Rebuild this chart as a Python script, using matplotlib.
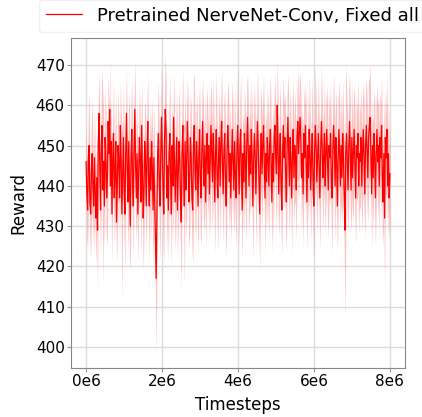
import numpy as np
import matplotlib
matplotlib.use("Agg")
import matplotlib.pyplot as plt
from matplotlib.ticker import FuncFormatter

# mean reward per evaluation point
reward_mean = [
    446, 438, 434, 447, 450, 436, 433, 443, 448, 440, 435, 447, 438, 432, 442, 429, 450, 458, 444, 434,
    450, 455, 439, 446, 435, 452, 447, 437, 442, 456, 448, 459, 440, 451, 433, 447, 453, 437, 443, 451,
    431, 440, 450, 446, 437, 455, 447, 433, 442, 452, 439, 433, 448, 458, 444, 436, 451, 441, 430, 447,
    454, 442, 435, 450, 459, 445, 437, 448, 433, 442, 452, 447, 436, 455, 444, 432, 439, 451, 446, 435,
    448, 456, 442, 435, 447, 439, 451, 444, 434, 447, 437, 428, 417, 433, 448, 453, 442, 435, 447, 457,
    449, 439, 433, 451, 459, 454, 437, 445, 434, 448, 453, 442, 433, 450, 440, 457, 447, 436, 444, 452,
    434, 442, 451, 447, 437, 431, 448, 455, 444, 435, 451, 439, 446, 456, 448, 436, 442, 452, 447, 437,
    434, 450, 455, 444, 439, 451, 446, 435, 447, 454, 442, 437, 448, 456, 446, 440, 450, 436, 447, 453,
    443, 450, 438, 447, 455, 448, 441, 453, 446, 436, 448, 454, 443, 437, 447, 452, 440, 450, 456, 446,
    438, 448, 453, 442, 435, 447, 455, 450, 441, 448, 437, 446, 454, 447, 439, 451, 443, 437, 448, 455,
    447, 438, 450, 454, 443, 434, 448, 441, 453, 446, 437, 451, 457, 448, 440, 450, 443, 454, 447, 435,
    446, 453, 448, 438, 447, 456, 450, 441, 433, 447, 453, 443, 450, 455, 446, 437, 448, 441, 452, 447,
    440, 450, 454, 446, 436, 448, 441, 452, 455, 447, 443, 460, 450, 438, 447, 453, 441, 434, 448, 455,
    447, 452, 443, 436, 450, 457, 448, 440, 452, 446, 437, 448, 454, 442, 450, 447, 439, 452, 456, 448,
    453, 457, 451, 442, 448, 438, 453, 447, 455, 446, 436, 450, 442, 454, 448, 439, 447, 453, 442, 435,
    448, 455, 450, 441, 447, 453, 445, 437, 448, 456, 450, 442, 447, 453, 440, 448, 454, 446, 439, 450,
    447, 453, 442, 437, 448, 455, 450, 440, 452, 446, 435, 447, 454, 448, 440, 450, 442, 453, 447, 437,
    429, 448, 453, 446, 439, 450, 456, 447, 439, 452, 442, 448, 454, 446, 437, 450, 447, 453, 440, 448,
    446, 452, 440, 448, 454, 447, 438, 450, 455, 448, 442, 452, 455, 457, 447, 438, 450, 442, 453, 447,
    437, 448, 454, 446, 450, 440, 452, 447, 455, 442, 436, 448, 432, 452, 447, 454, 440, 448, 437, 443,
]

# half width of the shaded band around the mean
reward_spread = [
    9, 11, 10, 12, 13, 10, 11, 12, 14, 10, 11, 13, 10, 12, 11, 16, 12, 10, 12, 11,
    12, 14, 24, 12, 10, 13, 11, 12, 14, 11, 10, 12, 13, 11, 12, 10, 14, 11, 12, 13,
    11, 12, 14, 10, 13, 11, 12, 22, 11, 13, 12, 14, 10, 12, 11, 13, 12, 18, 11, 14,
    12, 10, 13, 11, 12, 14, 11, 13, 12, 10, 13, 11, 14, 12, 11, 13, 12, 10, 14, 11,
    13, 12, 11, 14, 12, 13, 11, 12, 14, 13, 12, 14, 18.5, 14, 12, 13, 11, 14, 12, 13,
    11, 14, 12, 13, 14, 12, 14, 11, 13, 12, 14, 11, 13, 12, 14, 11, 13, 12, 14, 11,
    13, 12, 14, 11, 13, 17, 12, 14, 11, 20, 13, 12, 14, 11, 13, 12, 14, 11, 13, 12,
    14, 18, 12, 14, 13, 11, 14, 12, 13, 11, 14, 12, 13, 11, 14, 12, 13, 11, 14, 12,
    11, 13, 12, 14, 11, 13, 12, 14, 11, 13, 12, 14, 11, 13, 12, 11, 14, 12, 13, 11,
    12, 13, 11, 14, 13, 12, 11, 14, 12, 13, 11, 14, 12, 13, 11, 14, 12, 13, 11, 14,
    12, 13, 11, 14, 12, 13, 11, 14, 12, 13, 11, 14, 11, 13, 12, 14, 11, 13, 12, 14,
    12, 13, 11, 14, 12, 13, 11, 14, 14, 13, 12, 14, 11, 13, 12, 14, 11, 13, 12, 14,
    13, 12, 14, 11, 13, 12, 14, 11, 13, 12, 14, 11, 13, 11, 14, 12, 13, 11, 14, 12,
    13, 11, 14, 12, 13, 11, 14, 12, 13, 11, 14, 12, 13, 11, 14, 12, 13, 11, 14, 12,
    13, 11, 12, 13, 11, 14, 12, 13, 11, 14, 12, 13, 11, 14, 12, 13, 11, 14, 12, 13,
    11, 14, 12, 13, 11, 14, 12, 13, 11, 14, 12, 13, 11, 14, 12, 13, 11, 14, 12, 13,
    12, 13, 11, 14, 12, 13, 11, 14, 12, 13, 11, 14, 12, 13, 11, 14, 12, 13, 11, 14,
    22, 22, 12, 13, 11, 14, 12, 13, 11, 14, 12, 13, 11, 14, 12, 13, 11, 14, 12, 13,
    12, 13, 11, 14, 12, 13, 11, 14, 12, 13, 11, 14, 12, 13, 11, 14, 12, 13, 11, 14,
    12, 13, 11, 14, 12, 13, 11, 14, 12, 13, 11, 14, 18, 13, 11, 14, 12, 13, 11, 12,
]

max_timesteps = 8e6
label = "Pretrained NerveNet-Conv, Fixed all"

mean = np.array(reward_mean, dtype=float)
spread = np.array(reward_spread, dtype=float)
timesteps = np.linspace(0, max_timesteps, len(mean))

fig = plt.figure(figsize=(4.22, 4.17), dpi=100)
ax = fig.add_axes([0.168, 0.1175, 0.792, 0.7915])

ax.plot(timesteps, mean, color="red", linewidth=0.9, label=label)
ax.fill_between(timesteps, mean - spread, mean + spread, color="red", alpha=0.24, linewidth=0)

ax.xaxis.set_major_formatter(FuncFormatter(lambda v, p: f"{v / 1e6:.0f}e6"))
ax.set_xticks([0, 2e6, 4e6, 6e6, 8e6])
ax.set_yticks(range(400, 471, 10))
ax.grid(True, color="#dddddd", linewidth=1)
ax.set_axisbelow(True)
ax.tick_params(length=3, width=0.8, color="#999999", labelsize=11, pad=1.5)
for s in ax.spines.values():
    s.set_color("#888888")

ax.set_xlabel("Timesteps", fontsize=12, labelpad=5)
ax.set_ylabel("Reward", fontsize=12, labelpad=6)

ax.legend(loc="lower center", bbox_to_anchor=(0.483, 1.018), borderaxespad=0,
          fontsize=13, frameon=True, edgecolor="#eeeeee", handlelength=2)

fig.savefig("out.png", dpi=100)
